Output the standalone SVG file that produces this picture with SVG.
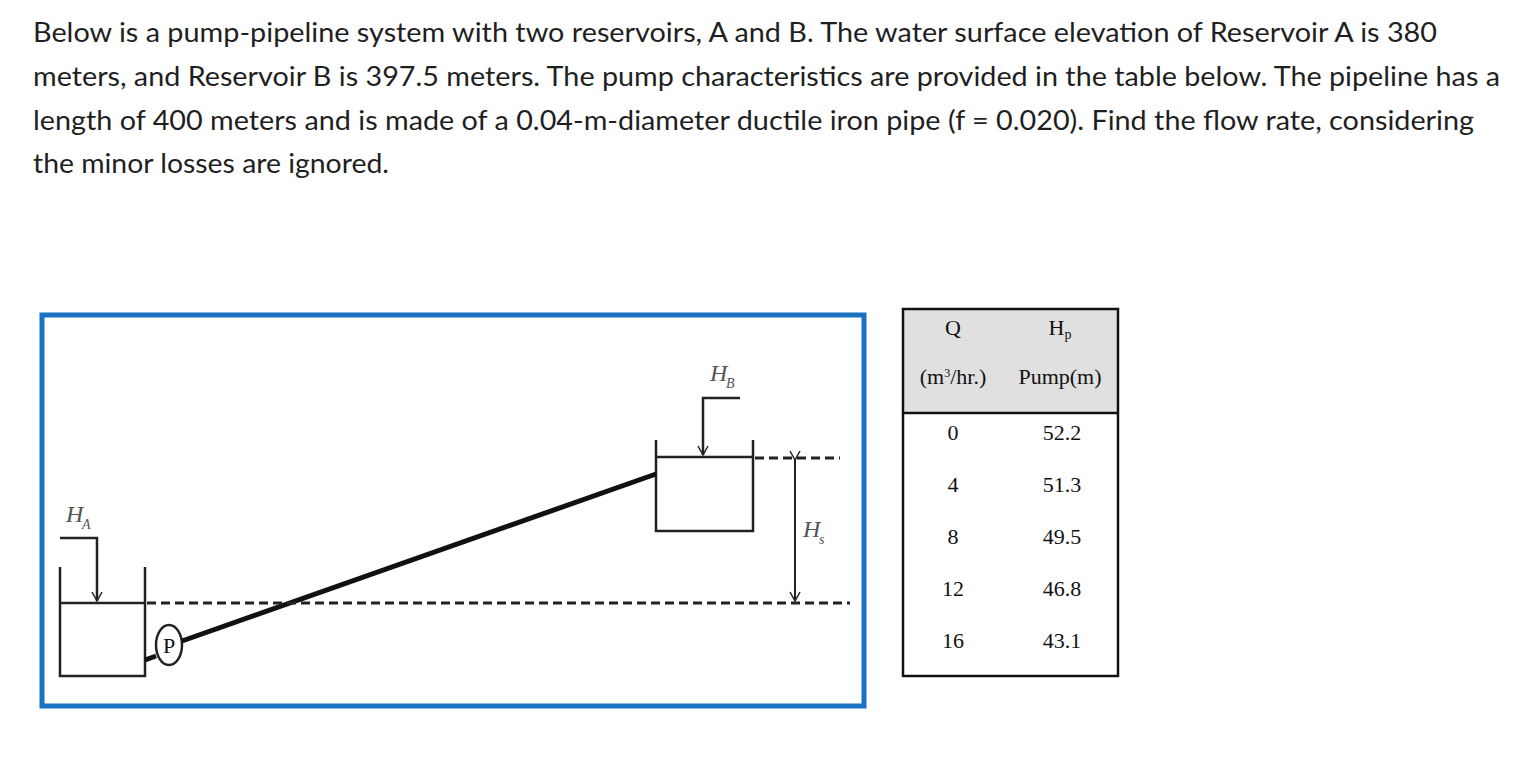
<svg xmlns="http://www.w3.org/2000/svg" width="1529" height="758" viewBox="0 0 1529 758">
<style>
.p{font-family:Lato,"Liberation Sans",sans-serif;font-size:27px;fill:#1f1f1f}
.t{font-family:"Liberation Serif",serif;font-size:22px;fill:#111;text-anchor:middle}
.l{font-family:"Liberation Serif",serif;font-style:italic;font-size:24px;fill:#555}
.s{font-family:"Liberation Serif",serif;font-style:italic;font-size:14px;fill:#555}
.k{stroke:#222;stroke-width:2.5;fill:none}
.d{stroke:#222;stroke-width:3;stroke-dasharray:9,5;fill:none}
</style>
<defs><marker id="ah" markerWidth="12" markerHeight="12" refX="10" refY="6" orient="auto" markerUnits="userSpaceOnUse"><path d="M1,1 L10,6 L1,11" fill="none" stroke="#222" stroke-width="1.5"/></marker></defs>
<rect width="1529" height="758" fill="#fff"/>
<g id="question">
<text class="p" x="33" y="42" textLength="1404" lengthAdjust="spacingAndGlyphs">Below is a pump-pipeline system with two reservoirs, A and B. The water surface elevation of Reservoir A is 380</text>
<text class="p" x="33" y="86" textLength="1467" lengthAdjust="spacingAndGlyphs">meters, and Reservoir B is 397.5 meters. The pump characteristics are provided in the table below. The pipeline has a</text>
<text class="p" x="33" y="130" textLength="1441" lengthAdjust="spacingAndGlyphs">length of 400 meters and is made of a 0.04-m-diameter ductile iron pipe (f = 0.020). Find the flow rate, considering</text>
<text class="p" x="33" y="173" textLength="356" lengthAdjust="spacingAndGlyphs">the minor losses are ignored.</text>
</g>
<rect x="42" y="315" width="822" height="391" fill="none" stroke="#1a72c2" stroke-width="5"/>
<g id="reservoirA">
<path class="k" d="M60,567 V676 H145 V567 M60,603 H145"/>
<text class="l" x="66" y="522">H</text><text class="s" x="82" y="529">A</text>
</g>
<g id="pump"><ellipse cx="169" cy="645" rx="13" ry="20" fill="#fff" stroke="#222" stroke-width="2.5"/><text class="t" x="169" y="653" font-size="19">P</text></g>
<g id="reservoirB">
<path class="k" d="M656,440 V531 H753 V440 M656,457 H753"/>
<text class="l" x="710" y="381">H</text><text class="s" x="726" y="388">B</text>
</g>
<text class="l" x="803" y="537">H</text><text class="s" x="819" y="544">s</text>
<g id="connectors">
<path d="M145,660 L156,656" stroke="#111" stroke-width="5"/>
<path d="M182,641 L656,474" stroke="#111" stroke-width="5"/>
<path class="d" d="M147,603 H850"/>
<path class="d" d="M755,458 H840"/>
<path class="k" stroke-width="2" d="M60,538 H97 V601" marker-end="url(#ah)"/>
<path class="k" stroke-width="2" d="M740,398 H703 V455" marker-end="url(#ah)"/>
<path stroke="#222" stroke-width="2" d="M795,460 V601" marker-start="url(#ah)" marker-end="url(#ah)"/>
</g>
<g id="table">
<rect x="903" y="309" width="215" height="104" fill="#e0e0e0"/>
<rect x="903" y="309" width="215" height="367" fill="none" stroke="#111" stroke-width="2.5"/>
<line x1="903" y1="413" x2="1118" y2="413" stroke="#111" stroke-width="2.5"/>
<text class="t" x="953" y="335">Q</text>
<text class="t" x="1060" y="335">H<tspan font-size="14" dy="4">p</tspan></text>
<text class="t" x="953" y="384" font-size="18">(m<tspan font-size="12" dy="-7">3</tspan><tspan dy="7">/hr.)</tspan></text>
<text class="t" x="1060" y="384" font-size="18">Pump(m)</text>
<text class="t" x="953" y="440">0</text><text class="t" x="1062" y="440">52.2</text>
<text class="t" x="953" y="492">4</text><text class="t" x="1062" y="492">51.3</text>
<text class="t" x="953" y="544">8</text><text class="t" x="1062" y="544">49.5</text>
<text class="t" x="953" y="596">12</text><text class="t" x="1062" y="596">46.8</text>
<text class="t" x="953" y="648">16</text><text class="t" x="1062" y="648">43.1</text>
</g>
</svg>
